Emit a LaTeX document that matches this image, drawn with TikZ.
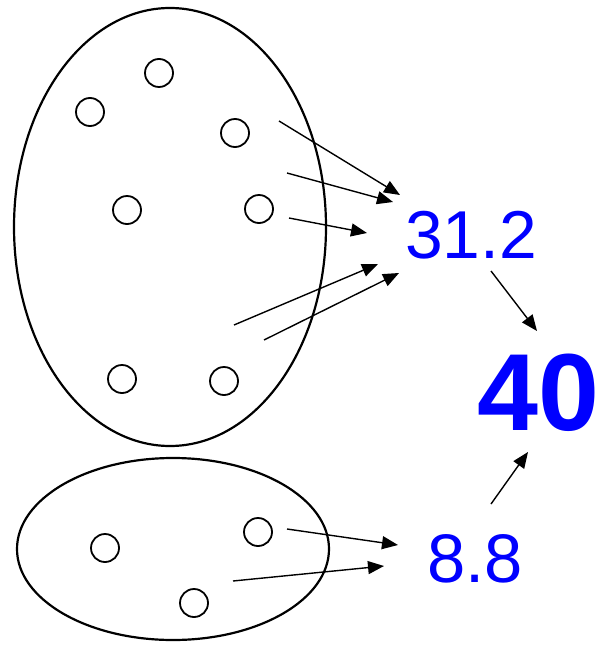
\documentclass[tikz,border=0pt]{standalone}
\usepackage{fontspec}
\setmainfont{Liberation Sans}
\usetikzlibrary{arrows.meta}
\definecolor{numBlue}{RGB}{0,0,255}
\tikzset{
    bag/.style={draw=black, line width=2.2pt},
    dot/.style={circle, draw=black, line width=1.8pt, minimum size=28bp, inner sep=0pt},
    conn/.style={draw=black, line width=1.4pt, -{Triangle[length=16bp,width=13bp]}},
    val/.style={text=numBlue, inner sep=0pt, anchor=base west}
}

\begin{document}
\begin{tikzpicture}[x=1bp,y=-1bp]
    \path[use as bounding box, clip] (0,0) rectangle (597,650);
    % the two groups
    \draw[bag] (170,227) ellipse [x radius=156, y radius=219];
    \draw[bag] (173,549) ellipse [x radius=156, y radius=91];
    \node[dot] (a1) at (159,73) {};
    \node[dot] (a2) at (90,112) {};
    \node[dot] (a3) at (235,133) {};
    \node[dot] (a4) at (127,210) {};
    \node[dot] (a5) at (259,209) {};
    \node[dot] (a6) at (122,379) {};
    \node[dot] (a7) at (224,381) {};
    \node[dot] (b1) at (105,548) {};
    \node[dot] (b2) at (258,532) {};
    \node[dot] (b3) at (194,603) {};
    % sums
    \node[val, font=\fontsize{68}{80}\selectfont] (sumA) at (405,258) {31.2};
    \node[val, font=\fontsize{69}{80}\selectfont] (sumB) at (427,582) {8.8};
    \node[val, font=\bfseries\fontsize{110}{120}\selectfont] (total) at (477,430) {40};
    % arrow ends
    \coordinate (s1) at (279,121);  \coordinate (e1) at (400,195);
    \coordinate (s2) at (287,173);  \coordinate (e2) at (393,202);
    \coordinate (s3) at (289,218);  \coordinate (e3) at (367,233);
    \coordinate (s4) at (234,325);  \coordinate (e4) at (378,264);
    \coordinate (s5) at (264,340);  \coordinate (e5) at (399,273);
    \coordinate (s6) at (491,271);  \coordinate (e6) at (537,331);
    \coordinate (s7) at (491,504);  \coordinate (e7) at (528,452);
    \coordinate (s8) at (287,529);  \coordinate (e8) at (398,545);
    \coordinate (s9) at (233,581);  \coordinate (e9) at (384,566);
    \foreach \i in {1,...,9}
        \draw[conn] (s\i) -- (e\i);
\end{tikzpicture}
\end{document}
